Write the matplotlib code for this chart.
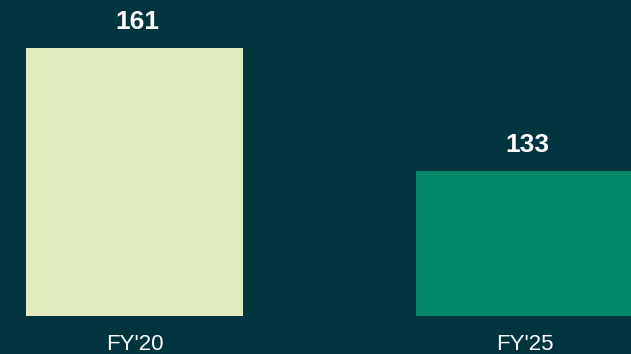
import matplotlib.pyplot as plt

categories = ["FY'20", "FY'25"]
values = [161, 133]
bar_colors = ["#E0EBBD", "#008767"]
bg = "#003540"

plt.rcParams['font.family'] = ['Liberation Sans', 'DejaVu Sans']

fig = plt.figure(figsize=(6.31, 3.54), dpi=100, facecolor=bg)
ax = fig.add_axes([0, 38 / 354, 1, 316 / 354])
ax.set_facecolor(bg)

x = range(len(categories))
bars = ax.bar(x, values, width=0.556, color=bar_colors, bottom=0)

for b, v in zip(bars, values):
    ax.annotate(str(v), (b.get_x() + b.get_width() / 2, v), xytext=(2, 10),
                textcoords="offset points", ha="center", va="bottom",
                color="white", fontsize=19, fontweight="bold")

ax.set_ylim(100, 171.9)
ax.set_xlim(-0.345, 1.273)
ax.set_xticks(list(x))
ax.set_xticklabels(categories, color="white", fontsize=16)
ax.tick_params(axis="x", length=0, pad=13)
ax.set_yticks([])
for s in ax.spines.values():
    s.set_visible(False)

fig.savefig("out.png", dpi=100, facecolor=bg)
